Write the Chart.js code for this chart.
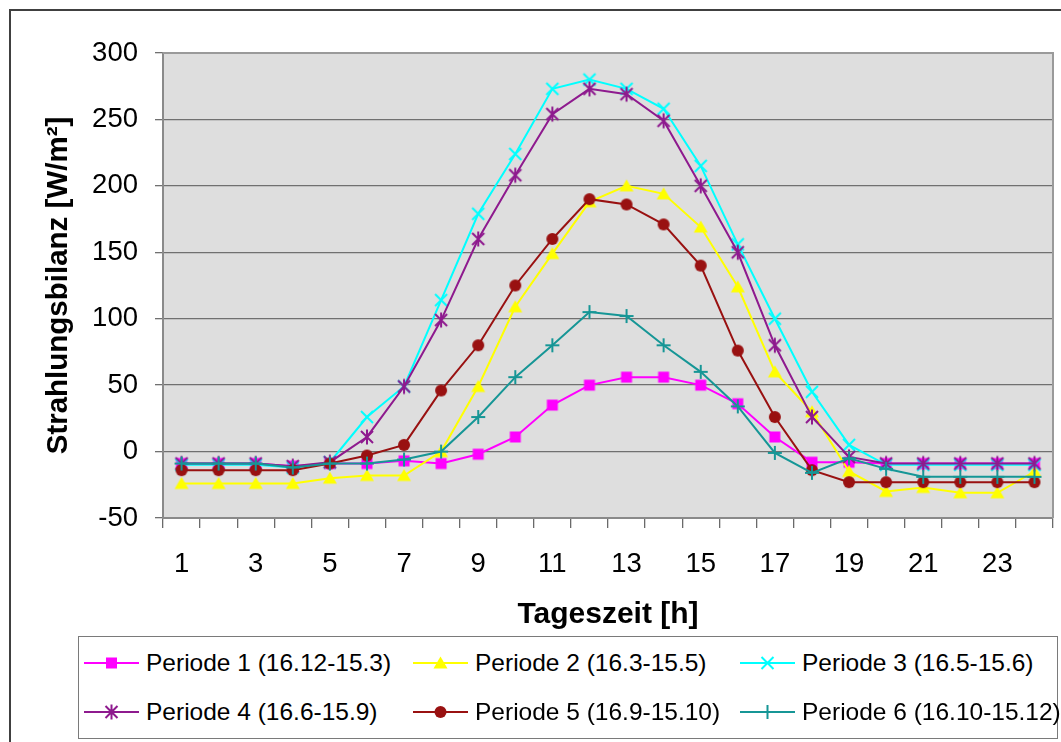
<!DOCTYPE html>
<html>
<head>
<meta charset="utf-8">
<script src="https://cdn.jsdelivr.net/npm/chart.js@4.4.0/dist/chart.umd.min.js"></script>
<style>
  html, body { margin: 0; padding: 0; background: #fff; }
  #wrap { position: relative; width: 1061px; height: 742px; overflow: hidden; }
  #legend {
    position: absolute; left: 78px; top: 636px; width: 980px; height: 103px;
    box-sizing: border-box; border: 1.5px solid #7a7a7a; background: #fff;
    font-family: "Liberation Sans", Arial, sans-serif; font-size: 24.5px; color: #000;
  }
  .item { position: absolute; height: 30px; display: flex; align-items: center; white-space: nowrap; }
  .item canvas { margin-right: 7px; }
</style>
</head>
<body>
<div id="wrap">
  <canvas id="chart" width="1061" height="742"></canvas>
  <div id="legend"></div>
</div>
<script>
// ─── Daten ────────────────────────────────────────────────────────────────────
const hours = ["1","2","3","4","5","6","7","8","9","10","11","12",
               "13","14","15","16","17","18","19","20","21","22","23","24"];

const periode1 = [-9,-9,-9,-11,-9,-9,-7,-9,-2,11,35,50,56,56,50,36,11,-8,-8,-9,-9,-9,-9,-9];
const periode2 = [-24,-24,-24,-24,-20,-18,-18,0,49,109,149,188,200,194,169,124,60,30,-15,-30,-27,-31,-31,-15];
const periode3 = [-10,-10,-10,-12,-8,26,49,114,179,224,273,280,273,258,215,156,100,45,5,-10,-10,-10,-10,-10];
const periode4 = [-9,-9,-9,-11,-8,11,49,99,160,208,254,273,269,249,200,150,80,26,-4,-9,-9,-9,-9,-9];
const periode5 = [-14,-14,-14,-14,-9,-3,5,46,80,125,160,190,186,171,140,76,26,-14,-23,-23,-23,-23,-23,-23];
const periode6 = [-9,-9,-9,-12,-9,-9,-6,0,26,56,80,105,102,80,60,34,-1,-16,-5,-13,-19,-19,-19,-19];

const seriesNames = [
  "Periode 1 (16.12-15.3)", "Periode 2 (16.3-15.5)", "Periode 3 (16.5-15.6)",
  "Periode 4 (16.6-15.9)", "Periode 5 (16.9-15.10)", "Periode 6 (16.10-15.12)"
];
const seriesData = [periode1, periode2, periode3, periode4, periode5, periode6];
const seriesColors = ["#ff00ff", "#ffff00", "#00ffff", "#8e1a8e", "#991111", "#169696"];
const seriesMarkers = ["square", "triangle", "x", "asterisk", "circle", "plus"];

const FONT = '"Liberation Sans", Arial, sans-serif';
Chart.defaults.font.family = FONT;
Chart.defaults.color = "#000";

// ─── Marker (Excel-Stil) ──────────────────────────────────────────────────────
function drawMarker(g, kind, color, cx, cy) {
  g.fillStyle = color;
  g.strokeStyle = color;
  g.lineWidth = 2;
  g.beginPath();
  switch (kind) {
    case "square":
      g.fillRect(cx - 5.5, cy - 5.5, 11, 11);
      break;
    case "triangle":
      g.moveTo(cx, cy - 6.5);
      g.lineTo(cx + 7, cy + 5.5);
      g.lineTo(cx - 7, cy + 5.5);
      g.closePath();
      g.fill();
      break;
    case "x":
      g.moveTo(cx - 6, cy - 6); g.lineTo(cx + 6, cy + 6);
      g.moveTo(cx + 6, cy - 6); g.lineTo(cx - 6, cy + 6);
      g.stroke();
      break;
    case "asterisk":
      g.moveTo(cx - 6, cy - 6); g.lineTo(cx + 6, cy + 6);
      g.moveTo(cx + 6, cy - 6); g.lineTo(cx - 6, cy + 6);
      g.moveTo(cx, cy - 7.5); g.lineTo(cx, cy + 7.5);
      g.stroke();
      break;
    case "circle":
      g.arc(cx, cy, 6, 0, Math.PI * 2);
      g.fill();
      break;
    case "plus":
      g.moveTo(cx - 7, cy); g.lineTo(cx + 7, cy);
      g.moveTo(cx, cy - 7); g.lineTo(cx, cy + 7);
      g.stroke();
      break;
  }
}

function markerCanvas(kind, color) {
  const c = document.createElement("canvas");
  c.width = 18; c.height = 18;
  drawMarker(c.getContext("2d"), kind, color, 9, 9);
  return c;
}

// ─── Hintergrund, Rahmen ──────────────────────────────────────────────────────
const framePlugin = {
  id: "frame",
  beforeDraw(chart) {
    const { ctx, chartArea: a } = chart;
    ctx.save();
    ctx.fillStyle = "#fff";
    ctx.fillRect(0, 0, chart.width, chart.height);
    ctx.fillStyle = "#dedede";
    ctx.fillRect(a.left, a.top, a.right - a.left, a.bottom - a.top);
    ctx.strokeStyle = "#404040";
    ctx.lineWidth = 2;
    ctx.strokeRect(10, 10, 1200, 900);
    ctx.restore();
  },
  beforeDatasetsDraw(chart) {
    const { ctx, chartArea: a } = chart;
    ctx.save();
    ctx.strokeStyle = "#9a9a9a";
    ctx.lineWidth = 2;
    ctx.beginPath();
    ctx.moveTo(a.left, a.top);
    ctx.lineTo(a.right, a.top);
    ctx.lineTo(a.right, a.bottom);
    ctx.stroke();
    ctx.restore();
  }
};

// ─── Diagramm ─────────────────────────────────────────────────────────────────
const datasets = seriesData.map((d, i) => ({
  label: seriesNames[i],
  data: d,
  borderColor: seriesColors[i],
  backgroundColor: seriesColors[i],
  borderWidth: 2,
  pointStyle: markerCanvas(seriesMarkers[i], seriesColors[i]),
  pointRadius: 6,
  tension: 0,
  fill: false,
  order: 6 - i
}));

new Chart(document.getElementById("chart"), {
  type: "line",
  data: { labels: hours, datasets },
  options: {
    responsive: false,
    animation: false,
    layout: { padding: { left: 0, top: 53, right: 7, bottom: 0 } },
    plugins: { legend: { display: false }, tooltip: { enabled: false } },
    scales: {
      x: {
        offset: true,
        grid: { offset: true, drawOnChartArea: false, tickLength: 10, color: "#6a6a6a", lineWidth: 1.3 },
        border: { color: "#8a8a8a", width: 2 },
        ticks: {
          autoSkip: false, maxRotation: 0, minRotation: 0, padding: 20,
          font: { size: 27.5 }, color: "#000",
          callback: (v, i) => (i % 2 === 0 ? hours[i] : "")
        },
        title: {
          display: true, text: "Tageszeit [h]", color: "#000",
          font: { size: 30, weight: "bold" }, padding: { top: 0, bottom: 109 }
        },
        afterFit: s => { s.height = 224; }
      },
      y: {
        min: -50, max: 300,
        grid: { color: "#707070", lineWidth: 1.3, tickLength: 8 },
        border: { color: "#8a8a8a", width: 2 },
        ticks: { stepSize: 50, padding: 17, font: { size: 27.5 }, color: "#000" },
        title: {
          display: true, text: "Strahlungsbilanz [W/m²]", color: "#000",
          font: { size: 29.5, weight: "bold" }, padding: { top: 41, bottom: 0 }
        },
        afterFit: s => { s.width = 163; }
      }
    }
  },
  plugins: [framePlugin]
});

// ─── Legende ──────────────────────────────────────────────────────────────────
const legendCols = [5, 334, 661];
const legendRows = [11, 60];
const legendEl = document.getElementById("legend");
seriesNames.forEach((name, i) => {
  const item = document.createElement("div");
  item.className = "item";
  item.style.left = legendCols[i % 3] + "px";
  item.style.top = legendRows[Math.floor(i / 3)] + "px";
  const c = document.createElement("canvas");
  c.width = 55; c.height = 20;
  const g = c.getContext("2d");
  g.strokeStyle = seriesColors[i];
  g.lineWidth = 2;
  g.beginPath(); g.moveTo(0, 10); g.lineTo(55, 10); g.stroke();
  drawMarker(g, seriesMarkers[i], seriesColors[i], 27.5, 10);
  item.appendChild(c);
  const span = document.createElement("span");
  span.textContent = name;
  item.appendChild(span);
  legendEl.appendChild(item);
});
</script>
</body>
</html>
